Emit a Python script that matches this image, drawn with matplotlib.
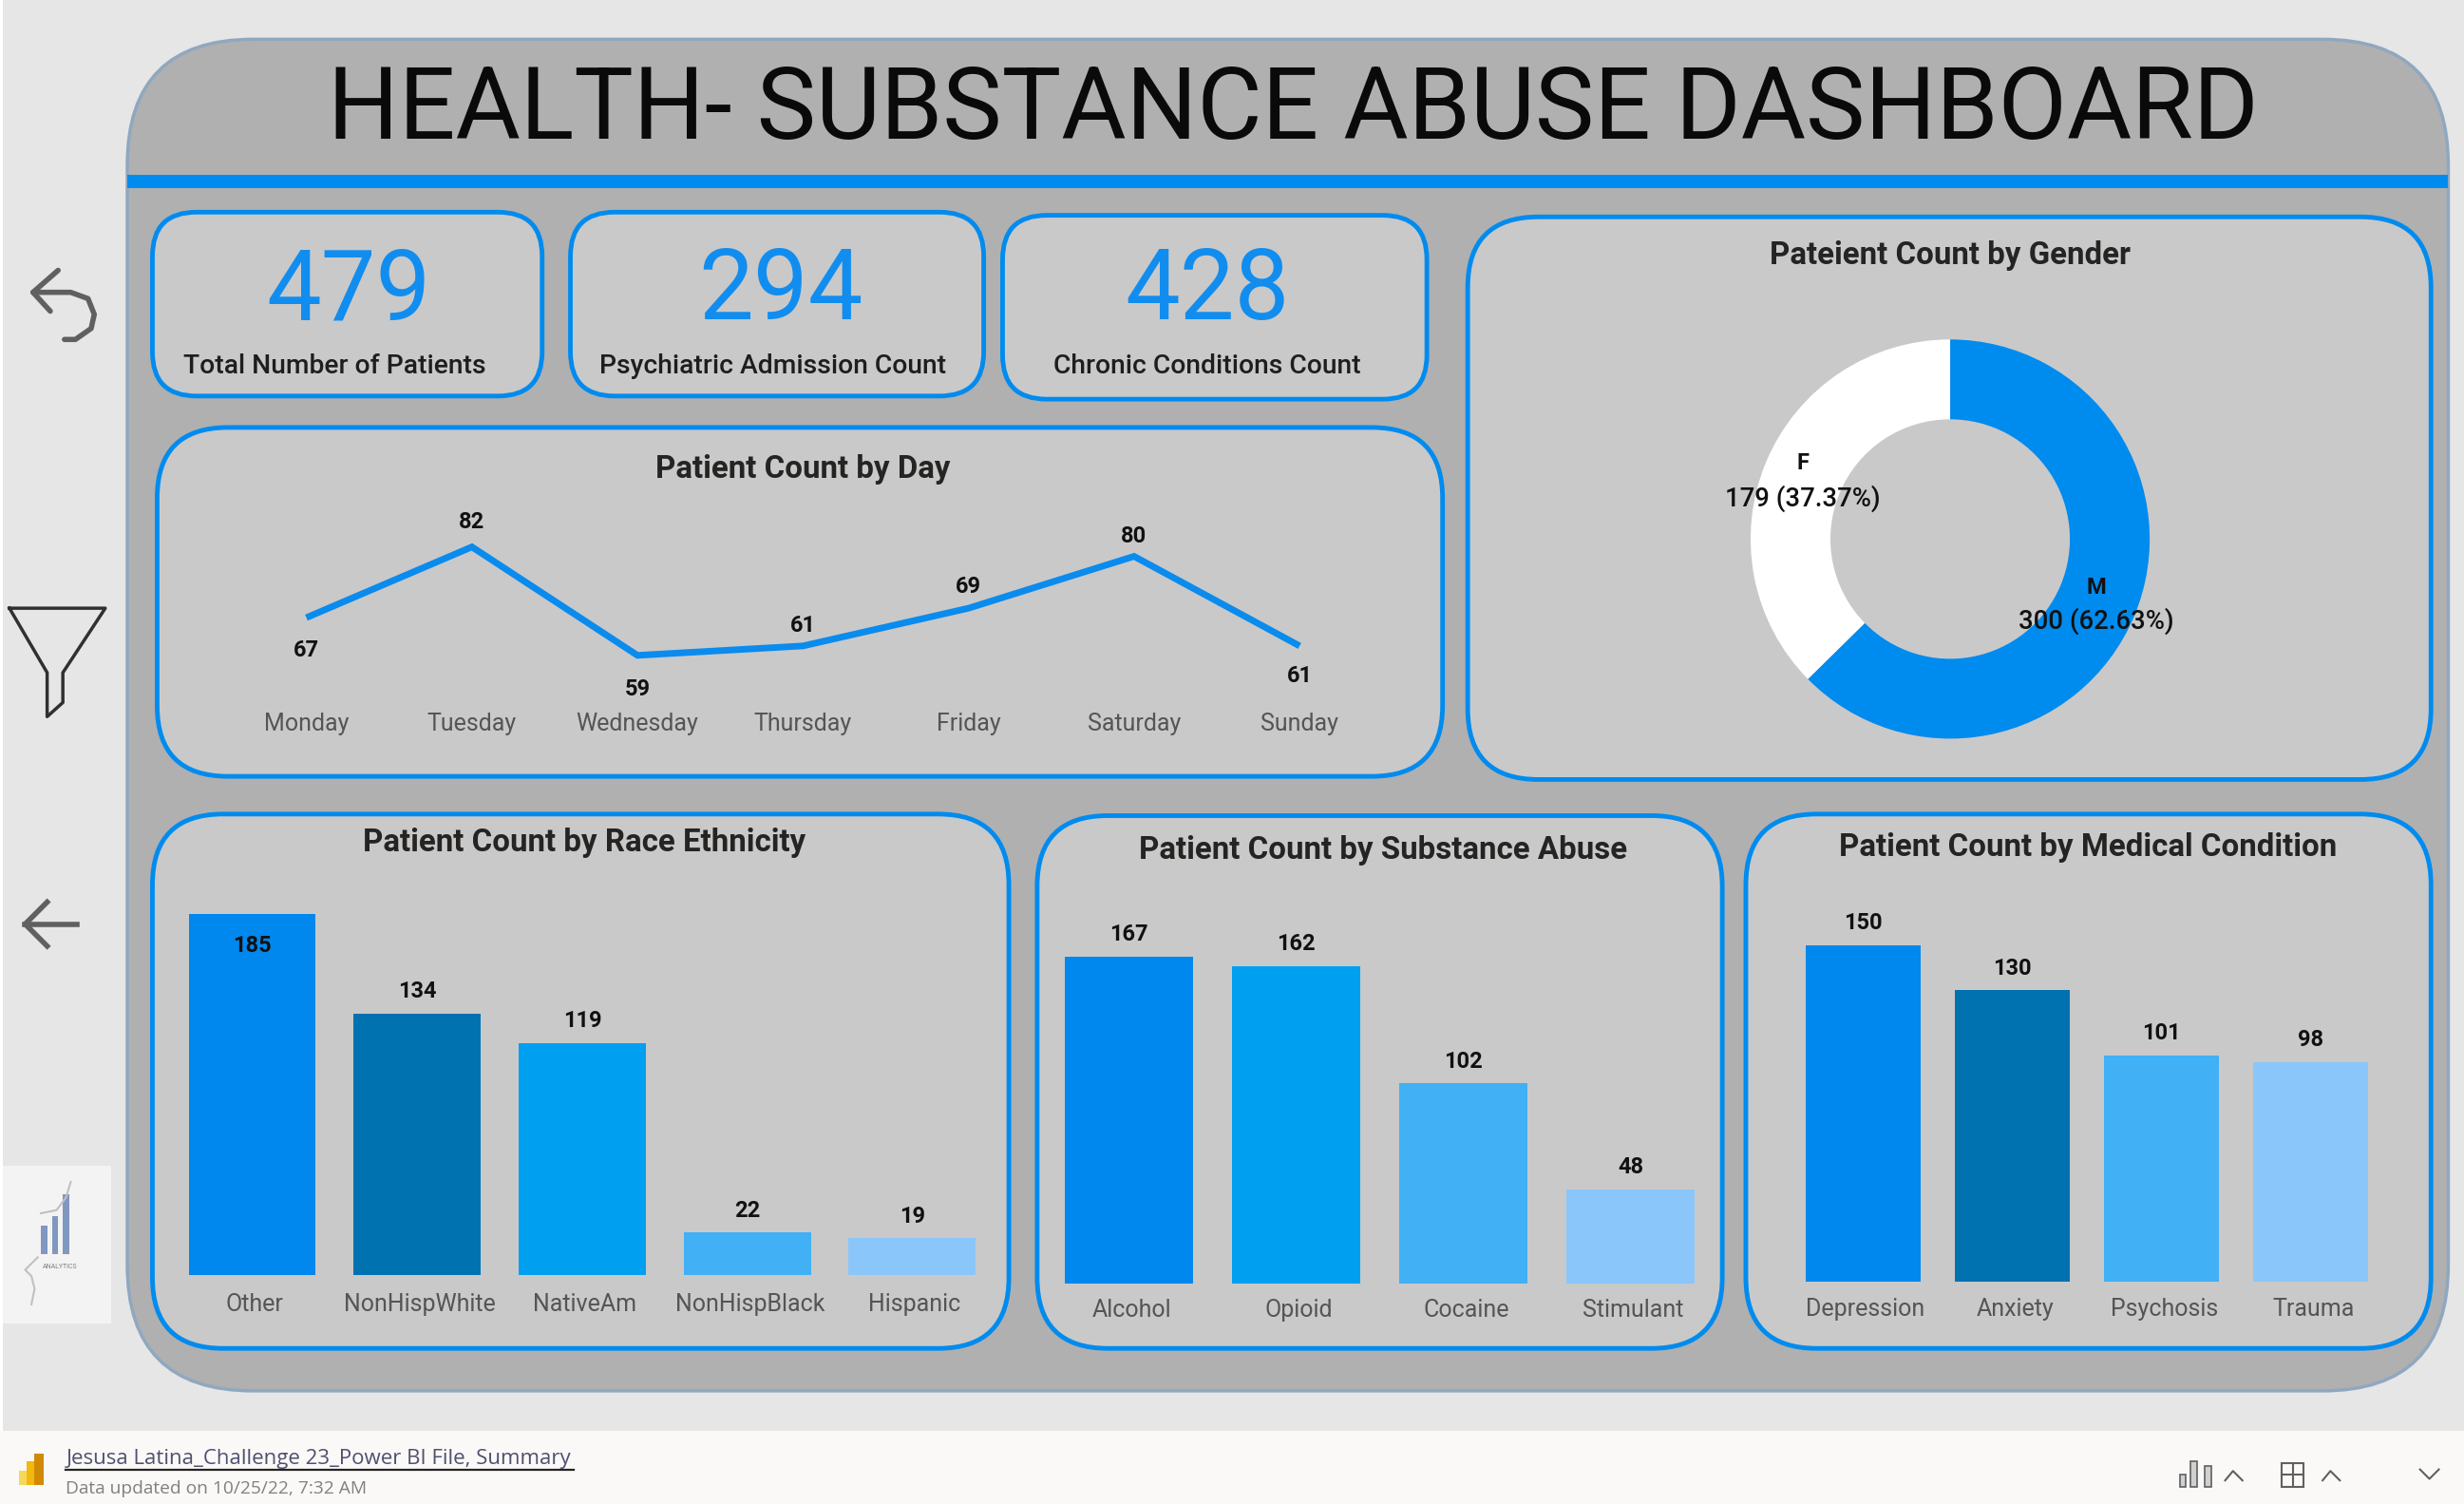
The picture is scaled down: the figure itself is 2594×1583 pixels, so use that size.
import matplotlib
matplotlib.use("Agg")
import matplotlib.pyplot as plt
from matplotlib.patches import FancyBboxPatch, Rectangle
from matplotlib.transforms import ScaledTranslation

# ---------- data ----------
kpi_values = ["479", "294", "428"]
kpi_labels = ["Total Number of Patients", "Psychiatric Admission Count", "Chronic Conditions Count"]
days = ["Monday", "Tuesday", "Wednesday", "Thursday", "Friday", "Saturday", "Sunday"]
day_counts = [67, 82, 59, 61, 69, 80, 61]
genders = ["M", "F"]
gender_counts = [300, 179]
gender_pct = ["62.63%", "37.37%"]
races = ["Other", "NonHispWhite", "NativeAm", "NonHispBlack", "Hispanic"]
race_counts = [185, 134, 119, 22, 19]
substances = ["Alcohol", "Opioid", "Cocaine", "Stimulant"]
substance_counts = [167, 162, 102, 48]
conditions = ["Depression", "Anxiety", "Psychosis", "Trauma"]
condition_counts = [150, 130, 101, 98]

BLUE = "#008BEF"
race_colors = ["#0088EE", "#0072B0", "#009FF0", "#41B0F5", "#8AC6FA"]
sub_colors = ["#0088EE", "#009FF0", "#41B0F5", "#8AC6FA"]
cond_colors = ["#0088EE", "#0072B0", "#41B0F5", "#8AC6FA"]
FONT = "Roboto"
plt.rcParams["font.family"] = FONT

W, H = 1568.0, 957.0
fig = plt.figure(figsize=(25.94, 15.83), dpi=100, facecolor="#E6E6E6")
bg = fig.add_axes([0, 0, 1, 1])
bg.set_xlim(0, W); bg.set_ylim(H, 0); bg.axis("off")

def card(x0, y0, x1, y1, r, fc="#C9C9C9", ec=BLUE, lw=3.5, z=2):
    bg.add_patch(FancyBboxPatch((x0 + r, y0 + r), x1 - x0 - 2 * r, y1 - y0 - 2 * r,
                                boxstyle=f"round,pad={r},rounding_size={r}",
                                fc=fc, ec=ec, lw=lw, zorder=z))

def axes_px(x0, y0, x1, y1):
    ax = fig.add_axes([x0 / W, 1 - y1 / H, (x1 - x0) / W, (y1 - y0) / H])
    ax.patch.set_alpha(0)
    for s in ax.spines.values():
        s.set_visible(False)
    ax.set_yticks([])
    return ax

# page furniture
bg.add_patch(Rectangle((0, 0), 2, H, fc="white", ec="none", zorder=1))
bg.add_patch(Rectangle((0, 910.5), W, 47, fc="#FAF9F7", ec="none", zorder=1))
card(81, 25, 1558, 885, 80, fc="#B0B0B0", ec="#8FA8C0", lw=2.5)
bg.add_patch(Rectangle((81, 111), 1477, 9, fc="#008BEF", ec="none", zorder=3))
bg.text(823, 71, "HEALTH- SUBSTANCE ABUSE DASHBOARD", fontsize=75.5, color="#0A0A0A",
        ha="center", va="center", zorder=4)

# icons
g = "#606060"
bg.plot([37, 21, 32], [172, 186, 198], color=g, lw=4, zorder=4, solid_capstyle="round")
bg.plot([21, 45, 56, 60, 58, 48, 41], [186, 186, 190, 200, 209, 216, 216], color=g, lw=4, zorder=4, solid_capstyle="round")
bg.plot([6, 67, 40, 40, 30, 30, 6], [387, 387, 428, 447, 456, 428, 387], color="#303030", lw=2.5, zorder=4)
bg.plot([49, 16], [588, 588], color=g, lw=4, zorder=4)
bg.plot([30, 16, 30], [574, 588, 602], color=g, lw=4, zorder=4)
bg.add_patch(Rectangle((2, 742), 69, 100, fc="#F3F3F3", ec="none", zorder=1))
for bx, bh in [(26, 18), (33, 24), (40, 38)]:
    bg.add_patch(Rectangle((bx, 798 - bh), 4, bh, fc="#8098C0", ec="none", zorder=2))
bg.plot([26, 36, 42, 45], [772, 770, 762, 752], color="#C0C0C0", lw=1.5, zorder=2)
bg.plot([24, 16, 20, 22, 20], [800, 808, 812, 820, 830], color="#C0C0C0", lw=1.5, zorder=2)
bg.text(38, 806, "ANALYTICS", fontsize=5, color="#808080", ha="center", va="center", zorder=3)

# footer
for x, y, w, h, c in [(12, 936, 6, 9, "#F5D75A"), (17, 930, 6, 15, "#F0B90B"), (22, 925, 6, 20, "#D08A05")]:
    bg.add_patch(Rectangle((x, y), w, h, fc=c, ec="none", zorder=3))
bg.text(42, 928, "Jesusa Latina_Challenge 23_Power BI File, Summary", fontsize=16, color="#505070",
        ha="left", va="center", zorder=3, family="Open Sans")
bg.plot([42, 365], [935.5, 935.5], color="#252423", lw=1.6, zorder=3)
bg.text(42, 947.5, "Data updated on 10/25/22, 7:32 AM", fontsize=13.8, color="#808080",
        ha="left", va="center", zorder=3, family="Open Sans")
g2 = "#606060"
for bx, by0 in [(1387, 938), (1394, 930), (1403, 933)]:
    bg.add_patch(Rectangle((bx, by0), 4, 946 - by0, fc="#D0D0D0", ec=g2, lw=1.2, zorder=3))
bg.plot([1416, 1421, 1427], [942, 936, 942], color=g2, lw=1.5, zorder=3)
bg.plot([1478, 1483, 1489], [942, 936, 942], color=g2, lw=1.5, zorder=3)
bg.plot([1540, 1546, 1552], [935, 941, 935], color=g2, lw=1.5, zorder=3)
bg.add_patch(Rectangle((1452, 931), 14, 15, fc="none", ec=g2, lw=1.5, zorder=3))
bg.plot([1452, 1466], [938, 938], color=g2, lw=1.5, zorder=3)
bg.plot([1459, 1459], [931, 946], color=g2, lw=1.5, zorder=3)

# KPI cards
kpi_boxes = [(97, 135, 345, 252), (363, 135, 626, 252), (638, 137, 908, 254)]
kpi_cx = [222, 497, 768]
lab_cx = [213, 492, 768]
for box, v, lab, cx, lx in zip(kpi_boxes, kpi_values, kpi_labels, kpi_cx, lab_cx):
    card(*box, 28)
    bg.text(cx, 186, v, fontsize=74, color="#118DEF", ha="center", va="center", zorder=4)
    bg.text(lx, 233, lab, fontsize=20.3, color="#1E1E1E", ha="center", va="center", zorder=4, fontweight="medium")

# panels
card(100, 272, 918, 494, 45)
card(934, 138, 1547, 496, 45)
card(97, 518, 642, 858, 45)
card(660, 519, 1096, 858, 45)
card(1111, 518, 1547, 858, 45)

def title(x, y, s):
    bg.text(x, y, s, fontsize=23.8, color="#252423", ha="center", va="center", zorder=4, fontweight="bold")

title(511, 298.5, "Patient Count by Day")
title(1241, 162.5, "Pateient Count by Gender")
title(372, 536, "Patient Count by Race Ethnicity")
title(880, 541, "Patient Count by Substance Abuse")
title(1329, 539, "Patient Count by Medical Condition")

LAB = dict(fontsize=17, color="#111111", ha="center", va="center", fontweight="bold")
TICK = dict(labelsize=18, length=0, labelcolor="#555555")

# line chart
ax = axes_px(142.3, 330, 879.7, 445)
ax.plot(range(len(days)), day_counts, color="#0A8BEE", lw=5, solid_joinstyle="miter", solid_capstyle="butt")
ax.set_xlim(-0.5, 6.5); ax.set_ylim(49.67, 88)
ax.set_xticks(range(len(days)), days)
ax.tick_params(axis="x", pad=10, **TICK)
day_off = [-24.5, 18.5, -25.5, 15.5, 16.5, 15.5, -23]
for i, (v, o) in enumerate(zip(day_counts, day_off)):
    ax.annotate(str(v), (i, v), xytext=(0, o), textcoords="offset points", **LAB)

# donut
ax = axes_px(1241 - 127, 343 - 127, 1241 + 127, 343 + 127)
ax.pie(gender_counts, colors=[BLUE, "white"], startangle=90, counterclock=False,
       radius=1.0, wedgeprops=dict(width=0.40, lw=0))
ax.set_xlim(-1, 1); ax.set_ylim(-1, 1)

# donut labels sit above the ring, on their own transparent overlay
top = fig.add_axes([0, 0, 1, 1], zorder=10)
top.set_xlim(0, W); top.set_ylim(H, 0); top.axis("off")
PCT = {**LAB, "fontsize": 19.8, "fontweight": "medium"}
top.text(1147, 295, genders[1], **LAB)
top.text(1147, 317, f"{gender_counts[1]} ({gender_pct[1]})", **PCT)
top.text(1334, 374, genders[0], **LAB)
top.text(1334, 395, f"{gender_counts[0]} ({gender_pct[0]})", **PCT)

def bars(x0, x1, base, top_y, per_unit, cats, vals, cols, width, pad, inside_first=False):
    ax = axes_px(x0, top_y, x1, base)
    ax.bar(range(len(cats)), vals, color=cols, width=width)
    ax.set_xlim(-0.5, len(cats) - 0.5)
    ax.set_ylim(0, (base - top_y) / per_unit)
    ax.set_xticks(range(len(cats)), cats)
    ax.tick_params(axis="x", pad=pad, **TICK)
    shift = ScaledTranslation(2.0 / 72, 0, fig.dpi_scale_trans)
    for lab in ax.get_xticklabels():
        lab.set_transform(lab.get_transform() + shift)
    for i, v in enumerate(vals):
        off = -24.5 if (inside_first and i == 0) else 16.5
        ax.annotate(str(v), (i, v), xytext=(0, off), textcoords="offset points", **LAB)

bars(108, 633, 811.5, 560.5, 1.243, races, race_counts, race_colors, 0.771, 13.5, inside_first=True)
bars(665, 1091, 816.5, 560.5, 1.2455, substances, substance_counts, sub_colors, 0.765, 11.5)
bars(1138, 1518, 815.5, 560.5, 1.427, conditions, condition_counts, cond_colors, 0.77, 12)

fig.savefig("out.png", dpi=100, facecolor=fig.get_facecolor())
